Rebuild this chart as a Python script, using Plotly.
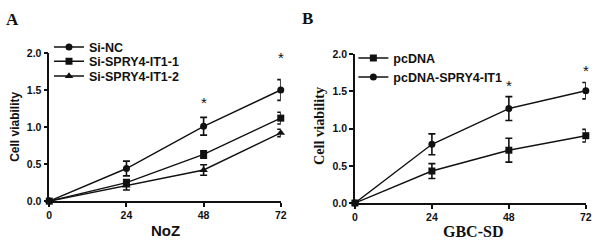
import plotly.graph_objects as go

hours = [0, 24, 48, 72]
tick_vals_y = [0, 0.5, 1.0, 1.5, 2.0]
tick_text_y = ["0.0", "0.5", "1.0", "1.5", "2.0"]

# Panel A (NoZ)
a_names = ["Si-NC", "Si-SPRY4-IT1-1", "Si-SPRY4-IT1-2"]
a_nc = [0, 0.44, 1.01, 1.50]
a_nc_err = [0, 0.10, 0.12, 0.14]
a_s1 = [0, 0.25, 0.63, 1.12]
a_s1_err = [0, 0.04, 0.05, 0.08]
a_s2 = [0, 0.21, 0.42, 0.92]
a_s2_err = [0, 0.06, 0.07, 0.05]
a_star_x = [48, 72]
a_star_y = [1.32, 1.92]

# Panel B (GBC-SD)
b_names = ["pcDNA", "pcDNA-SPRY4-IT1"]
b_pc = [0, 0.43, 0.71, 0.905]
b_pc_err = [0, 0.10, 0.16, 0.085]
b_sp = [0, 0.79, 1.27, 1.51]
b_sp_err = [0, 0.14, 0.16, 0.11]
b_star_x = [48, 72]
b_star_y = [1.56, 1.77]

BLACK = "#111111"
SANS = "Liberation Sans, Arial, sans-serif"
SERIF = "Liberation Serif, Times New Roman, serif"
W, H = 600, 249

fig = go.Figure()

def add(x, y, err, name, symbol, xa, ya, legend, size):
    fig.add_trace(go.Scatter(
        x=x, y=y, name=name, mode="lines+markers",
        xaxis=xa, yaxis=ya, legend=legend,
        line=dict(color=BLACK, width=1.4),
        marker=dict(symbol=symbol, size=size, color=BLACK),
        error_y=dict(type="data", array=err, visible=True, color=BLACK,
                     thickness=1.6, width=3.5),
        cliponaxis=False,
    ))

add(hours, a_nc, a_nc_err, a_names[0], "circle", "x", "y", "legend", 7)
add(hours, a_s1, a_s1_err, a_names[1], "square", "x", "y", "legend2", 7)
add(hours, a_s2, a_s2_err, a_names[2], "triangle-up", "x", "y", "legend3", 7.5)
add(hours, b_pc, b_pc_err, b_names[0], "square", "x2", "y2", "legend4", 7)
add(hours, b_sp, b_sp_err, b_names[1], "circle", "x2", "y2", "legend5", 7)

axis_common = dict(
    showline=True, linecolor=BLACK, linewidth=1.5, showgrid=False, zeroline=False,
    ticks="outside", ticklen=4, tickwidth=1.5, tickcolor=BLACK,
    tickfont=dict(family=SANS, size=10.5, color=BLACK, weight="bold"),
)

def leg(xpx, ypx):
    return dict(x=xpx / W, y=1 - ypx / H, xanchor="left", yanchor="middle",
                bgcolor="rgba(0,0,0,0)",
                font=dict(family=SANS, size=12.5, color=BLACK, weight="bold"))

fig.update_layout(
    width=W, height=H, margin=dict(l=0, r=0, t=0, b=0),
    paper_bgcolor="white", plot_bgcolor="white",
    xaxis=dict(domain=[47 / W, 282 / W], range=[0, 72], tickvals=hours,
               anchor="y", **axis_common),
    yaxis=dict(domain=[1 - 205 / H, 1 - 49.3 / H], range=[0, 2], tickvals=tick_vals_y,
               ticktext=tick_text_y, anchor="x", **axis_common),
    xaxis2=dict(domain=[357.3 / W, 591.7 / W], range=[0, 72], tickvals=hours,
                anchor="y2", **axis_common),
    yaxis2=dict(domain=[1 - 207 / H, 1 - 50.7 / H], range=[0, 2], tickvals=tick_vals_y,
                ticktext=tick_text_y, anchor="x2", **axis_common),
    legend=leg(46.7, 43.5),
    legend2=leg(46.7, 58.5),
    legend3=leg(46.7, 74),
    legend4=leg(355.7, 55),
    legend5=leg(355.7, 75),
    showlegend=True,
)

ann = []
for sx, sy in zip(a_star_x, a_star_y):
    ann.append(dict(x=sx, y=sy, xref="x", yref="y", text="*", showarrow=False,
                    font=dict(family=SANS, size=15, color=BLACK), yshift=1))
for sx, sy in zip(b_star_x, b_star_y):
    ann.append(dict(x=sx, y=sy, xref="x2", yref="y2", text="*", showarrow=False,
                    font=dict(family=SANS, size=15, color=BLACK), yshift=1))

ann += [
    dict(x=10 / W, y=1 - 14 / H, xref="paper", yref="paper", text="<b>A</b>",
         showarrow=False, xanchor="center", yanchor="middle",
         font=dict(family=SERIF, size=17, color=BLACK)),
    dict(x=309 / W, y=1 - 13 / H, xref="paper", yref="paper", text="<b>B</b>",
         showarrow=False, xanchor="center", yanchor="middle",
         font=dict(family=SERIF, size=17, color=BLACK)),
    dict(x=12.7 / W, y=1 - 127.5 / H, xref="paper", yref="paper", text="<b>Cell viability</b>",
         textangle=-90, showarrow=False, xanchor="center", yanchor="middle",
         font=dict(family=SANS, size=12, color=BLACK)),
    dict(x=165 / W, y=1 - 235.7 / H, xref="paper", yref="paper", text="<b>NoZ</b>",
         showarrow=False, xanchor="center", yanchor="middle",
         font=dict(family=SANS, size=15, color=BLACK)),
    dict(x=321 / W, y=1 - 126 / H, xref="paper", yref="paper", text="<b>Cell viability</b>",
         textangle=-90, showarrow=False, xanchor="center", yanchor="middle",
         font=dict(family=SERIF, size=14.3, color=BLACK)),
    dict(x=476.7 / W, y=1 - 236.7 / H, xref="paper", yref="paper", text="<b>GBC-SD</b>",
         showarrow=False, xanchor="center", yanchor="middle",
         font=dict(family=SERIF, size=16, color=BLACK)),
]
fig.update_layout(annotations=ann)

fig.write_html("out.html", config={"displayModeBar": False},
               post_script="document.body.style.margin='0';document.body.style.padding='0';")
